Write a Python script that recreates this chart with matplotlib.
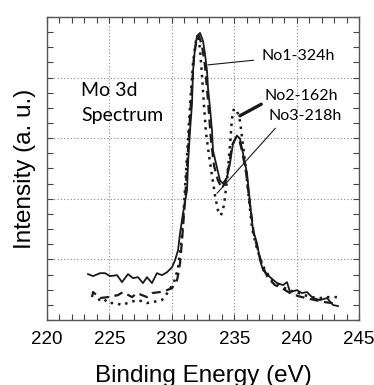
import matplotlib
matplotlib.use("Agg")
import matplotlib.pyplot as plt
from matplotlib.ticker import MultipleLocator, NullFormatter

# ---- data (binding energy eV, intensity a.u.) ----
no1_x = [223.29, 223.69, 224.25, 224.65, 225.05, 225.61, 226.01, 226.49, 226.89, 227.29,
         227.69, 228.01, 228.41, 228.81, 229.21, 229.62, 230.02, 230.26, 230.50, 230.66,
         230.90, 231.22, 231.30, 231.46, 231.62, 231.70, 231.86, 232.02, 232.26, 232.50,
         232.66, 232.82, 232.90, 233.06, 233.22, 233.30, 233.62, 233.86, 234.10, 234.42,
         234.66, 234.90, 235.22, 235.46, 235.71, 236.03, 236.27, 236.51, 236.83, 237.07,
         237.31, 237.87, 238.43, 238.91, 239.23, 239.47, 240.03, 240.43, 240.83, 241.31,
         241.88, 242.44, 242.92, 243.32]
no1_y = [0.757, 0.724, 0.773, 0.773, 0.724, 0.740, 0.625, 0.757, 0.691, 0.707,
         0.609, 0.707, 0.609, 0.773, 0.740, 0.789, 0.872, 0.987, 1.151, 1.431,
         1.760, 2.138, 2.582, 3.125, 3.569, 4.112, 4.490, 4.688, 4.737, 4.605,
         4.391, 4.112, 3.832, 3.503, 3.125, 2.796, 2.516, 2.303, 2.253, 2.352,
         2.582, 2.911, 3.043, 2.993, 2.747, 2.418, 1.924, 1.480, 1.266, 0.987,
         0.822, 0.707, 0.609, 0.576, 0.625, 0.461, 0.493, 0.444, 0.461, 0.362,
         0.329, 0.362, 0.247, 0.230]

no3_x = [223.61, 223.69, 224.25, 224.89, 225.69, 226.09, 226.81, 227.21, 228.01, 228.41,
         229.05, 229.62, 230.02, 230.42, 230.50, 230.66, 230.82, 231.06, 231.30, 231.54,
         231.78, 232.02, 232.18, 232.42, 232.66, 232.90, 233.14, 233.38, 233.70, 234.02,
         234.34, 234.58, 234.82, 235.14, 235.38, 235.62, 235.95, 236.27, 236.59, 236.91,
         237.23, 237.71, 238.27, 238.83, 239.47, 240.11, 240.75, 241.47, 242.20, 242.84,
         243.32]
no3_y = [0.378, 0.461, 0.362, 0.378, 0.411, 0.461, 0.378, 0.444, 0.378, 0.444,
         0.461, 0.493, 0.526, 0.658, 0.740, 0.938, 1.316, 1.974, 2.796, 3.618,
         4.359, 4.671, 4.688, 4.523, 4.194, 3.618, 2.961, 2.549, 2.303, 2.171,
         2.303, 2.549, 2.878, 3.010, 2.993, 2.796, 2.434, 1.891, 1.398, 1.151,
         0.905, 0.691, 0.576, 0.526, 0.444, 0.395, 0.362, 0.329, 0.296, 0.280,
         0.280]

no2_x = [224.09, 224.49, 224.89, 225.45, 226.01, 226.65, 227.29, 228.01, 228.49, 229.21,
         229.70, 230.18, 230.50, 230.74, 230.98, 231.22, 231.46, 231.70, 231.94, 232.10,
         232.26, 232.42, 232.58, 232.74, 232.98, 233.22, 233.46, 233.70, 233.94, 234.18,
         234.42, 234.66, 234.82, 234.98, 235.22, 235.46, 235.71, 235.95, 236.19, 236.43,
         236.75, 237.07, 237.47, 238.03, 238.67, 239.31, 239.95, 240.59, 241.23, 241.88,
         242.52, 243.32]
no2_y = [0.329, 0.362, 0.280, 0.280, 0.247, 0.296, 0.329, 0.280, 0.296, 0.329,
         0.461, 0.625, 0.855, 1.234, 1.891, 2.714, 3.536, 4.243, 4.605, 4.671,
         4.474, 4.030, 3.536, 3.092, 2.714, 2.385, 2.056, 1.809, 1.727, 1.891,
         2.303, 2.878, 3.322, 3.487, 3.454, 3.289, 2.878, 2.467, 1.974, 1.513,
         1.234, 1.020, 0.822, 0.658, 0.576, 0.493, 0.461, 0.411, 0.378, 0.362,
         0.378, 0.378]

x_ticks = [220, 225, 230, 235, 240, 245]
x_tick_labels = ["220", "225", "230", "235", "240", "245"]
series_labels = ["No1-324h", "No2-162h", "No3-218h"]
title_lines = ["Mo 3d", "Spectrum"]

# ---- figure ----
fig = plt.figure(figsize=(3.74, 3.85), dpi=100)
ax = fig.add_axes([47 / 374, 65 / 385, 312 / 374, 303 / 385])

ink = "#1a1a1a"
ax.plot(no1_x, no1_y, color=ink, lw=1.3, ls="-")
ax.plot(no3_x, no3_y, color=ink, lw=1.6, ls=(0, (4, 2.5)))
ax.plot(no2_x, no2_y, color=ink, lw=1.8, ls=(0, (1, 2)))

ax.set_xlim(220, 245)
ax.set_ylim(0, 5)
ax.set_xticks(x_ticks)
ax.set_xticklabels(x_tick_labels, fontsize=13.5, family="Liberation Sans")
ax.xaxis.set_minor_locator(MultipleLocator(1))
ax.yaxis.set_major_locator(MultipleLocator(1))
ax.yaxis.set_minor_locator(MultipleLocator(0.25))
ax.yaxis.set_major_formatter(NullFormatter())
ax.tick_params(which="both", direction="in", top=True, right=True, color="#444444", width=0.8)
ax.tick_params(which="major", length=4, pad=8)
ax.tick_params(which="minor", length=4)
ax.grid(True, which="major", ls=(0, (1, 2)), color="#888888", lw=0.8)
for s in ax.spines.values():
    s.set_color("#555555")
    s.set_linewidth(1.0)

ax.set_xlabel("Binding Energy (eV)", fontsize=17.5, family="Liberation Sans", labelpad=12.5)
ax.set_ylabel("Intensity (a. u.)", fontsize=17.5, family="Liberation Sans", labelpad=0)

# ---- annotations ----
ax.text(222.72, 3.70, title_lines[0], fontsize=14, family="Lato", va="baseline")
ax.text(222.72, 3.29, title_lines[1], fontsize=14, family="Lato", va="baseline")

ax.annotate(series_labels[0], xy=(232.90, 4.21), xytext=(237.15, 4.29),
            fontsize=11.5, family="Lato", va="baseline",
            arrowprops=dict(arrowstyle="-", color=ink, lw=0.8, shrinkA=0, shrinkB=0,
                            relpos=(-0.1, 0.2)))
ax.annotate(series_labels[1], xy=(235.46, 3.37), xytext=(237.39, 3.635),
            fontsize=11.5, family="Lato", va="baseline",
            arrowprops=dict(arrowstyle="-", color=ink, lw=2.4, shrinkA=0, shrinkB=0,
                            relpos=(0.0, 0.0)))
ax.annotate(series_labels[2], xy=(233.62, 2.09), xytext=(237.71, 3.306),
            fontsize=11.5, family="Lato", va="baseline",
            arrowprops=dict(arrowstyle="-", color=ink, lw=0.8, shrinkA=0, shrinkB=0,
                            relpos=(0.1, -0.4)))

fig.savefig("out.png", dpi=100)
